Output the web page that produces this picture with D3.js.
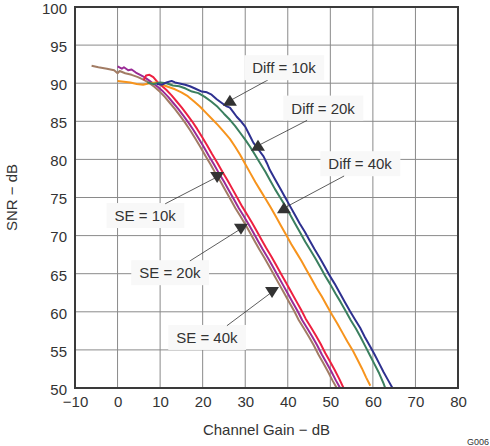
<!DOCTYPE html>
<html>
<head>
<meta charset="utf-8">
<script src="https://cdn.jsdelivr.net/npm/d3@7"></script>
<style>
  body { margin: 0; background: #fff; }
  text { font-family: "Liberation Sans", Arial, sans-serif; fill: #333; }
</style>
</head>
<body>
<svg id="chart" width="490" height="446"></svg>
<script>
// axis ticks
var xTicks = [-10, 0, 10, 20, 30, 40, 50, 60, 70, 80];
var yTicks = [50, 55, 60, 65, 70, 75, 80, 85, 90, 95, 100];

// [channel gain dB, SNR dB]
var diff10k = [[9.2,89.9],[10.5,89.8],[11.5,90.1],[12.7,90.3],[13.5,90.1],[14.3,90.0],[15.9,89.8],[17,89.6],[18.2,89.3],[19.8,88.9],[21,88.8],[22.1,88.5],[23.3,87.9],[24.5,87.4],[25.5,87.0],[26.4,86.8],[27.2,86.2],[28,85.6],[29,85.0],[30,84.3],[31,83.2],[31.9,82.2],[33.1,81.3],[34.3,80.4],[35.1,79.5],[35.8,78.6],[37,77.4],[38.2,76.2],[39.3,75.1],[40.4,74.0],[41.6,72.8],[42.8,71.6],[44,70.5],[45.1,69.4],[46.3,68.2],[47.5,67.1],[48.6,66.0],[49.8,64.8],[51,63.7],[52.2,62.5],[53.4,61.3],[54.6,60.1],[55.8,59.0],[57,57.9],[58.1,56.7],[59.2,55.6],[60.4,54.4],[61.5,53.2],[62.5,52.1],[63.6,51.0],[64.6,50]];
var diff20k = [[7,90.1],[8.5,89.9],[10,90.1],[11.5,90.0],[13,89.7],[14.5,89.6],[16,89.3],[17.5,88.9],[19,88.7],[20.5,88.2],[22,87.6],[23.5,86.9],[25,86.0],[26.4,85.2],[27.6,84.4],[28.8,83.5],[30,82.6],[31.1,81.7],[32.3,80.6],[33.5,79.5],[34.7,78.4],[35.9,77.2],[37,76.1],[38.2,75.0],[39.4,73.9],[40.5,72.8],[41.7,71.6],[42.9,70.4],[44.1,69.2],[45.3,68.1],[46.5,67.0],[47.6,65.9],[48.8,64.7],[50,63.6],[51.2,62.4],[52.4,61.3],[53.6,60.1],[54.8,58.9],[56,57.8],[57.1,56.7],[58.2,55.5],[59.3,54.3],[60.4,53.1],[61.5,51.9],[62.5,50.6],[62.9,50]];
var diff40k = [[0,90.3],[1.5,90.2],[3,90.1],[4.5,89.9],[6,89.8],[7.5,90.0],[9,90.1],[10.5,89.8],[12,89.5],[13.5,89.2],[15,88.8],[16.5,88.3],[18,87.6],[19.4,86.9],[20.8,86.1],[22.2,85.3],[23.6,84.5],[25,83.6],[26.4,82.7],[27.6,81.7],[28.8,80.6],[30,79.4],[31.2,78.2],[32.4,77.0],[33.6,75.9],[34.8,74.8],[36,73.7],[37.2,72.5],[38.4,71.3],[39.6,70.1],[40.8,68.9],[42,67.8],[43.2,66.7],[44.4,65.5],[45.6,64.3],[46.8,63.1],[48,62.0],[49.2,60.8],[50.4,59.6],[51.6,58.5],[52.8,57.3],[54,56.1],[55.2,55.0],[56.3,53.8],[57.4,52.6],[58.4,51.4],[59.4,50.3]];
var se10k = [[6.1,90.4],[6.7,91.0],[7.5,91.1],[8.4,90.8],[9.3,90.2],[10.3,89.7],[11.5,89.1],[12.7,88.4],[13.9,87.6],[15.1,86.8],[16.3,85.9],[17.5,85.0],[18.7,84.0],[19.9,82.9],[21.1,81.8],[22.2,80.7],[23.4,79.6],[24.6,78.4],[25.8,77.3],[27,76.1],[28.1,75.0],[29.3,73.8],[30.4,72.8],[31.6,71.7],[32.7,70.6],[33.8,69.5],[34.9,68.4],[36.1,67.3],[37.2,66.2],[38.4,65.0],[39.6,63.8],[40.8,62.6],[41.9,61.5],[43.1,60.3],[44.2,59.1],[45.4,58.0],[46.6,56.9],[47.7,55.8],[48.8,54.6],[49.9,53.5],[51,52.4],[52.1,51.2],[53.1,50.0]];
var se20k = [[0,92.2],[1,91.9],[1.5,92.1],[2.5,91.7],[3.3,91.8],[4.3,91.4],[5.3,91.1],[6.3,90.8],[7.3,90.4],[8.3,90.0],[9.5,89.5],[10.7,88.9],[11.9,88.2],[13.1,87.4],[14.3,86.6],[15.5,85.7],[16.7,84.8],[17.9,83.8],[19.1,82.7],[20.3,81.6],[21.4,80.5],[22.6,79.4],[23.8,78.2],[25,77.1],[26.2,75.9],[27.3,74.8],[28.5,73.6],[29.6,72.6],[30.8,71.5],[31.9,70.4],[33,69.3],[34.1,68.2],[35.3,67.1],[36.4,66.0],[37.6,64.8],[38.8,63.6],[40,62.4],[41.1,61.3],[42.3,60.1],[43.4,58.9],[44.6,57.8],[45.8,56.7],[46.9,55.6],[48,54.4],[49.1,53.3],[50.2,52.2],[51.3,51.0],[52.3,50.0]];
var se40k = [[-6.1,92.3],[-4.5,92.1],[-2.5,91.9],[-0.8,91.7],[0,91.3],[0.5,91.6],[1.8,91.3],[3.3,91.1],[4.8,90.8],[6.3,90.4],[7.5,90.0],[8.7,89.5],[9.9,88.9],[11.1,88.2],[12.3,87.4],[13.5,86.6],[14.7,85.7],[15.9,84.8],[17.1,83.8],[18.3,82.7],[19.5,81.6],[20.6,80.5],[21.8,79.4],[23,78.2],[24.2,77.1],[25.4,75.9],[26.5,74.8],[27.7,73.6],[28.8,72.6],[30,71.5],[31.1,70.4],[32.2,69.3],[33.3,68.2],[34.5,67.1],[35.6,66.0],[36.8,64.8],[38,63.6],[39.2,62.4],[40.3,61.3],[41.5,60.1],[42.6,58.9],[43.8,57.8],[45,56.7],[46.1,55.6],[47.2,54.4],[48.3,53.3],[49.4,52.2],[50.5,51.0],[51.5,50.0]];

// label text, label centre, and the curve point its arrow marks (data units)
var labelNames = ["Diff = 10k", "Diff = 20k", "Diff = 40k", "SE = 10k", "SE = 20k", "SE = 40k"];
var labelAt = [[39.1,92.0],[48.3,86.7],[57.0,79.4],[6.5,72.6],[12.3,65.1],[21.0,56.6]];
var arrowAt = [[26.4,87.7],[33.0,81.8],[39.1,73.6],[23.4,77.7],[29.0,70.9],[36.3,62.6]];

var series = [
  {data: se40k, color: "#a27c64"},
  {data: se20k, color: "#9a2b96"},
  {data: se10k, color: "#ee2040"},
  {data: diff40k, color: "#f7941d"},
  {data: diff20k, color: "#3b7f5f"},
  {data: diff10k, color: "#2e3190"}
];

var margin = {left: 75, top: 7, right: 32, bottom: 58};
var svg = d3.select("#chart");
var w = 490 - margin.left - margin.right,
    h = 446 - margin.top - margin.bottom;

var x = d3.scaleLinear().domain([-10, 80]).range([0, w]);
var y = d3.scaleLinear().domain([50, 100]).range([h, 0]);

var g = svg.append("g").attr("transform", "translate(" + margin.left + "," + margin.top + ")");

// grid
g.selectAll("line.vgrid")
  .data(xTicks)
  .enter().append("line")
  .attr("x1", d => x(d)).attr("x2", d => x(d))
  .attr("y1", 0).attr("y2", h)
  .attr("stroke", "#8a8a8a").attr("stroke-width", 1);
g.selectAll("line.hgrid")
  .data(yTicks)
  .enter().append("line")
  .attr("x1", 0).attr("x2", w)
  .attr("y1", d => y(d)).attr("y2", d => y(d))
  .attr("stroke", "#8a8a8a").attr("stroke-width", 1);

// axes (labels only)
var xAxis = g.append("g")
  .attr("transform", "translate(0," + h + ")")
  .call(d3.axisBottom(x).tickValues(xTicks).tickSize(0).tickPadding(8).tickFormat(d => d < 0 ? "\u2212" + Math.abs(d) : d));
var yAxis = g.append("g")
  .call(d3.axisLeft(y).tickValues(yTicks).tickSize(0).tickPadding(8));
[xAxis, yAxis].forEach(a => {
  a.select(".domain").remove();
  a.selectAll("text").style("font-size", "15px").attr("fill", "#333")
    .style("font-family", "'Liberation Sans', Arial, sans-serif");
});
yAxis.selectAll("text").attr("dy", "0.42em");

var clip = g.append("clipPath").attr("id", "plotclip");
clip.append("rect").attr("width", w).attr("height", h);

var line = d3.line().x(d => x(d[0])).y(d => y(d[1]));

g.append("g").attr("clip-path", "url(#plotclip)")
  .selectAll("path")
  .data(series)
  .enter().append("path")
  .attr("d", d => line(d.data))
  .attr("fill", "none")
  .attr("stroke", d => d.color)
  .attr("stroke-width", 2)
  .attr("stroke-linejoin", "round");

// annotations
var ann = g.append("g");
labelNames.forEach(function(name, i) {
  var lx = x(labelAt[i][0]), ly = y(labelAt[i][1]);
  var ax = x(arrowAt[i][0]), ay = y(arrowAt[i][1]);
  var up = name.indexOf("Diff") == 0;
  ann.append("line")
    .attr("x1", lx + (up ? -16 : 20)).attr("y1", ly + (up ? 12 : -12))
    .attr("x2", ax).attr("y2", ay)
    .attr("stroke", "#333").attr("stroke-width", 0.8);
  var tri = up ? "M0,-6L7,5L-7,5Z" : "M0,6L7,-5L-7,-5Z";
  ann.append("path")
    .attr("d", tri)
    .attr("transform", "translate(" + ax + "," + ay + ")")
    .attr("fill", "#333");
  var t = ann.append("text")
    .attr("x", lx).attr("y", ly)
    .attr("text-anchor", "middle")
    .attr("dy", "0.35em")
    .style("font-size", "15px")
    .text(name);
  var bb = t.node().getBBox();
  ann.insert("rect", "text")
    .attr("x", bb.x - 8).attr("y", bb.y - 4)
    .attr("width", bb.width + 16).attr("height", bb.height + 8)
    .attr("fill", "#f8f8f8");
});
// keep texts above their boxes
ann.selectAll("text").raise();

// frame
g.append("rect")
  .attr("width", w).attr("height", h)
  .attr("fill", "none")
  .attr("stroke", "#3a3a3a").attr("stroke-width", 2);

// titles
svg.append("text")
  .attr("x", margin.left + w / 2).attr("y", 435)
  .attr("text-anchor", "middle")
  .style("font-size", "15px")
  .text("Channel Gain \u2212 dB");
svg.append("text")
  .attr("transform", "translate(17," + (margin.top + h / 2) + ") rotate(-90)")
  .attr("text-anchor", "middle")
  .style("font-size", "15px")
  .text("SNR \u2212 dB");
svg.append("text")
  .attr("x", 489).attr("y", 445)
  .attr("text-anchor", "end")
  .style("font-size", "9px")
  .text("G006");
</script>
</body>
</html>
